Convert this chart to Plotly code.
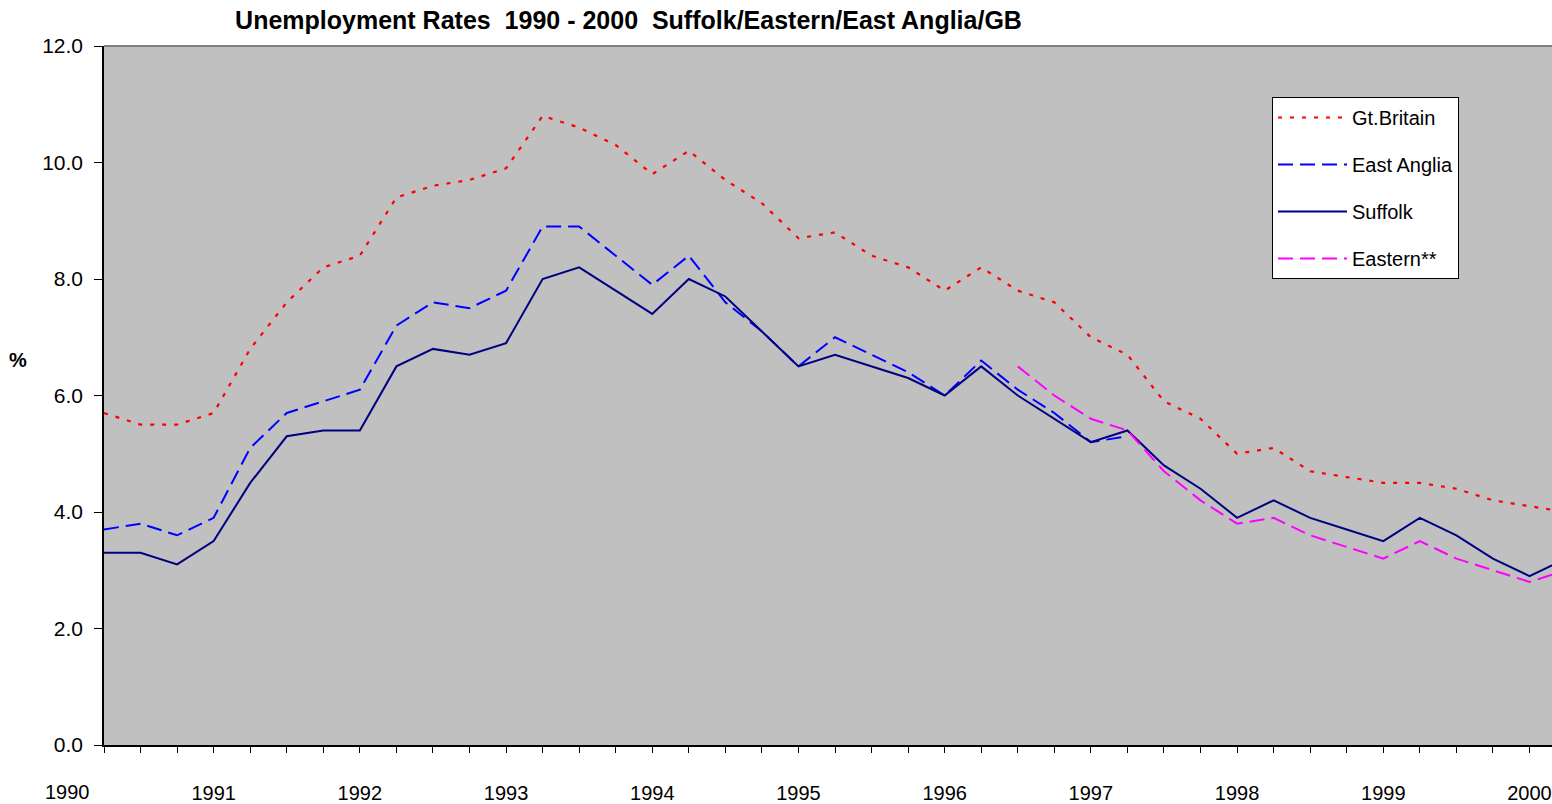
import plotly.graph_objects as go

# Quarterly periods (first point: 1990 Q2)
periods = [
    "1990 Q2", "1990 Q3", "1990 Q4",
    "1991 Q1", "1991 Q2", "1991 Q3", "1991 Q4",
    "1992 Q1", "1992 Q2", "1992 Q3", "1992 Q4",
    "1993 Q1", "1993 Q2", "1993 Q3", "1993 Q4",
    "1994 Q1", "1994 Q2", "1994 Q3", "1994 Q4",
    "1995 Q1", "1995 Q2", "1995 Q3", "1995 Q4",
    "1996 Q1", "1996 Q2", "1996 Q3", "1996 Q4",
    "1997 Q1", "1997 Q2", "1997 Q3", "1997 Q4",
    "1998 Q1", "1998 Q2", "1998 Q3", "1998 Q4",
    "1999 Q1", "1999 Q2", "1999 Q3", "1999 Q4",
    "2000 Q1", "2000 Q2",
]

gt_britain = [5.7, 5.5, 5.5, 5.7, 6.8, 7.6, 8.2, 8.4, 9.4, 9.6, 9.7, 9.9, 10.8, 10.6,
              10.3, 9.8, 10.2, 9.7, 9.3, 8.7, 8.8, 8.4, 8.2, 7.8, 8.2, 7.8, 7.6, 7.0,
              6.7, 5.9, 5.6, 5.0, 5.1, 4.7, 4.6, 4.5, 4.5, 4.4, 4.2, 4.1, 4.0]

east_anglia = [3.7, 3.8, 3.6, 3.9, 5.1, 5.7, 5.9, 6.1, 7.2, 7.6, 7.5, 7.8, 8.9, 8.9,
               8.4, 7.9, 8.4, 7.6, 7.1, 6.5, 7.0, 6.7, 6.4, 6.0, 6.6, 6.1, 5.7, 5.2,
               5.3, None, None, None, None, None, None, None, None, None, None, None, None]

suffolk = [3.3, 3.3, 3.1, 3.5, 4.5, 5.3, 5.4, 5.4, 6.5, 6.8, 6.7, 6.9, 8.0, 8.2,
           7.8, 7.4, 8.0, 7.7, 7.1, 6.5, 6.7, 6.5, 6.3, 6.0, 6.5, 6.0, 5.6, 5.2,
           5.4, 4.8, 4.4, 3.9, 4.2, 3.9, 3.7, 3.5, 3.9, 3.6, 3.2, 2.9, 3.2]

eastern = [None, None, None, None, None, None, None, None, None, None, None, None,
           None, None, None, None, None, None, None, None, None, None, None, None,
           None, 6.5, 6.0, 5.6, 5.4, 4.7, 4.2, 3.8, 3.9, 3.6, 3.4, 3.2, 3.5, 3.2,
           3.0, 2.8, 3.0]

year_labels = ["1990", "1991", "1992", "1993", "1994", "1995", "1996",
               "1997", "1998", "1999", "2000"]
y_ticks = [0, 2, 4, 6, 8, 10, 12]

# convert "YYYY Qn" to decimal year (start of quarter)
x = [int(p[:4]) + (int(p[-1]) - 1) / 4 for p in periods]

FONT = "Arial, Liberation Sans, sans-serif"

fig = go.Figure()
fig.add_trace(go.Scatter(x=x, y=gt_britain, name="Gt.Britain", mode="lines",
                         line=dict(color="#FF0000", width=2.2, dash="4px,8px"),
                         legendgroup="g1"))
fig.add_trace(go.Scatter(x=x, y=east_anglia, name="East Anglia", mode="lines",
                         line=dict(color="#0000FF", width=2, dash="15px,7px"),
                         legendgroup="g2"))
fig.add_trace(go.Scatter(x=x, y=suffolk, name="Suffolk", mode="lines",
                         line=dict(color="#000080", width=2),
                         legendgroup="g3"))
fig.add_trace(go.Scatter(x=x, y=eastern, name="Eastern**", mode="lines",
                         line=dict(color="#FF00FF", width=2, dash="15px,7px"),
                         legendgroup="g4"))

x_range = [1990.25, 2000.154]
ticktext = []
for v in x:
    if abs(v - round(v)) < 1e-9:
        ticktext.append(str(int(round(v))))
    else:
        ticktext.append("")

first_year_paper = (float(year_labels[0]) - x_range[0]) / (x_range[1] - x_range[0])

fig.update_layout(
    width=1552, height=804,
    margin=dict(l=104, r=0, t=46, b=59, pad=0, autoexpand=False),
    paper_bgcolor="white",
    plot_bgcolor="#C0C0C0",
    font=dict(family=FONT, size=20, color="black"),
    title=dict(
        text="Unemployment Rates \u00a01990 - 2000 \u00a0Suffolk/Eastern/East Anglia/GB",
        font=dict(family=FONT, size=25, color="black", weight="bold"),
        x=(628.5 - 104) / 1448, xref="paper", xanchor="center",
        y=1 - 20 / 804, yref="container", yanchor="middle",
    ),
    showlegend=True,
    legend=dict(
        x=(1272 - 104) / 1448, y=(745 - 97) / 699, xanchor="left", yanchor="top",
        bgcolor="white", bordercolor="black", borderwidth=1,
        font=dict(family=FONT, size=20, color="black"),
        tracegroupgap=18, itemwidth=69,
    ),
    xaxis=dict(
        range=x_range, tickmode="array", tickvals=x, ticktext=ticktext,
        ticks="outside", ticklen=6, tickwidth=1, tickcolor="black",
        showline=True, linecolor="black", linewidth=1.5,
        showgrid=False, zeroline=False, automargin=False,
        tickfont=dict(family=FONT, size=20, color="black"),
        ticklabelstandoff=23,
    ),
    xaxis2=dict(
        range=x_range, overlaying="x", anchor="y", side="bottom",
        tickmode="array", tickvals=x, ticks="inside", ticklen=6, tickwidth=1,
        tickcolor="black", showticklabels=False, showline=False,
        showgrid=False, zeroline=False, automargin=False,
    ),
    yaxis=dict(
        range=[0, 12], tickmode="array", tickvals=y_ticks,
        ticktext=[f"{v:.1f}" for v in y_ticks],
        ticks="outside", ticklen=8, tickwidth=1, tickcolor="black",
        showline=True, linecolor="black", linewidth=1.5,
        showgrid=False, zeroline=False, automargin=False,
        tickfont=dict(family=FONT, size=21, color="black"),
        ticklabelstandoff=7,
    ),
    yaxis2=dict(
        range=[0, 12], overlaying="y", anchor="x", side="left",
        tickmode="array", tickvals=y_ticks, ticks="inside", ticklen=7,
        tickwidth=1, tickcolor="black", showticklabels=False,
        showline=False, showgrid=False, zeroline=False, automargin=False,
    ),
    shapes=[dict(type="line", xref="paper", yref="paper", x0=0, x1=1, y0=1, y1=1,
                 line=dict(color="#808080", width=2))],
    annotations=[
        dict(text=year_labels[0], x=first_year_paper, xref="paper",
             y=(745 - 792) / 699, yref="paper", showarrow=False,
             xanchor="center", yanchor="middle",
             font=dict(family=FONT, size=20, color="black")),
        dict(text="%", x=(18 - 104) / 1448, xref="paper",
             y=(745 - 360) / 699, yref="paper", showarrow=False,
             xanchor="center", yanchor="middle",
             font=dict(family=FONT, size=20, color="black", weight="bold")),
    ],
)

fig.write_html("out.html", config={"displayModeBar": False},
               post_script="document.body.style.margin='0px';")
